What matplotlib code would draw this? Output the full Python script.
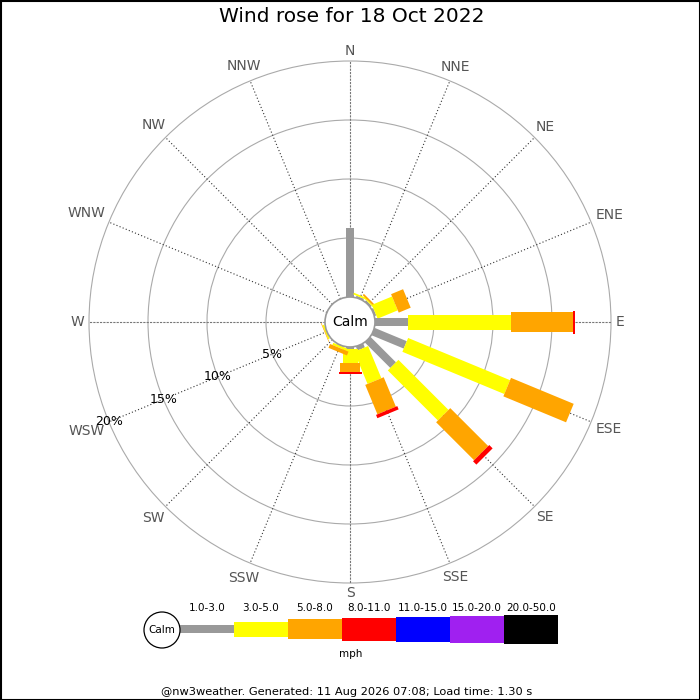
import numpy as np
import matplotlib.pyplot as plt
from matplotlib.patches import Polygon, Circle, Rectangle

directions = ['N', 'NNE', 'NE', 'ENE', 'E', 'ESE', 'SE', 'SSE',
              'S', 'SSW', 'SW', 'WSW', 'W', 'WNW', 'NW', 'NNW']
speed_bins = ['1.0-3.0', '3.0-5.0', '5.0-8.0', '8.0-11.0', '11.0-15.0', '15.0-20.0', '20.0-50.0']
bin_colors = ['#999999', '#ffff00', '#ffa500', '#ff0000', '#0000ff', '#a020f0', '#000000']

# percent of the day per direction, one list per speed bin (mph)
pct_1_3 = [5.85, 0.15, 0.15, 0.15, 2.8, 2.95, 3.05, 0.35, 0.15, 0.05, 0, 0, 0, 0, 0, 0]
pct_3_5 = [0, 0.15, 0.1, 1.85, 8.7, 9.35, 6.0, 2.95, 1.2, 0.2, 0, 0.15, 0, 0, 0, 0]
pct_5_8 = [0, 0, 0.15, 1.1, 5.25, 5.75, 4.55, 2.7, 0.75, 0.35, 0, 0.05, 0, 0, 0, 0]
pct_8_11 = [0, 0, 0, 0, 0.2, 0, 0.4, 0.3, 0.15, 0, 0, 0, 0, 0, 0, 0]
pct_11_15 = [0, 0, 0, 0, 0, 0, 0, 0, 0, 0, 0, 0, 0, 0, 0, 0]
pct_15_20 = [0, 0, 0, 0, 0, 0, 0, 0, 0, 0, 0, 0, 0, 0, 0, 0]
pct_20_50 = [0, 0, 0, 0, 0, 0, 0, 0, 0, 0, 0, 0, 0, 0, 0, 0]
all_bins = [pct_1_3, pct_3_5, pct_5_8, pct_8_11, pct_11_15, pct_15_20, pct_20_50]

ring_pcts = [5, 10, 15, 20]
title = 'Wind rose for 18 Oct 2022'
footer = '@nw3weather. Generated: 11 Aug 2026 07:08; Load time: 1.30 s'

# layout (pixels)
cx, cy = 350, 322
calm_r = 25
px_per_pct = 11.8
bar_w = [8, 15, 20, 23, 25, 27, 29]


def rad(p):
    return calm_r + p * px_per_pct


def unit(deg):
    a = np.radians(deg)
    return np.sin(a), -np.cos(a)


fig = plt.figure(figsize=(7, 7), dpi=100)
ax = fig.add_axes([0, 0, 1, 1])
ax.set_xlim(0, 700)
ax.set_ylim(700, 0)
ax.axis('off')

ax.text(352, 17, title, ha='center', va='center', fontsize=14.5)

# rings
for p in ring_pcts:
    ax.add_patch(Circle((cx, cy), rad(p), fill=False, ec='#aaaaaa', lw=0.8, zorder=1))

# spokes
r_out = rad(ring_pcts[-1])
for i, d in enumerate(directions):
    ux, uy = unit(i * 22.5)
    if i % 4 == 0:
        col, ls = '#777777', (0, (2, 1))
    else:
        col, ls = '#333333', (0, (1, 2))
    ax.plot([cx + ux * calm_r, cx + ux * r_out], [cy + uy * calm_r, cy + uy * r_out],
            color=col, lw=0.8, linestyle=ls, zorder=1)

# bars
for i, d in enumerate(directions):
    ang = i * 22.5
    ux, uy = unit(ang)
    vx, vy = np.cos(np.radians(ang)), np.sin(np.radians(ang))
    cum = 0.0
    for k, vals in enumerate(all_bins):
        v = vals[i]
        if v <= 0:
            continue
        r0, r1 = rad(cum), rad(cum + v)
        h = bar_w[k] / 2
        pts = [(cx + ux * r0 + vx * h, cy + uy * r0 + vy * h),
               (cx + ux * r1 + vx * h, cy + uy * r1 + vy * h),
               (cx + ux * r1 - vx * h, cy + uy * r1 - vy * h),
               (cx + ux * r0 - vx * h, cy + uy * r0 - vy * h)]
        ax.add_patch(Polygon(pts, closed=True, fc=bin_colors[k], ec='none', zorder=2))
        cum += v

# calm circle
ax.add_patch(Circle((cx, cy), calm_r, fc='white', ec='#999999', lw=1.2, zorder=3))
ax.text(cx, cy, 'Calm', ha='center', va='center', fontsize=10, zorder=4)

# ring labels along WSW
ux, uy = unit(247.5)
for p in ring_pcts:
    ax.text(cx + ux * rad(p), cy + uy * rad(p), '%d%%' % p, ha='center', va='center',
            fontsize=9, zorder=4)

# direction labels, pushed out by their own size
fig.canvas.draw()
renderer = fig.canvas.get_renderer()
for i, d in enumerate(directions):
    ux, uy = unit(i * 22.5)
    t = ax.text(0, 0, d, ha='center', va='center', fontsize=10, color='#555555')
    bb = t.get_window_extent(renderer=renderer)
    hw, hh = bb.width / 2, bb.height / 2 * 0.75
    r = 266 + abs(ux) * hw + abs(uy) * hh
    t.set_position((cx + ux * r, cy + uy * r))

# legend
leg_y = 629
leg_x0 = 180
seg = 54
ax.add_patch(Circle((162, leg_y + 1), 18, fc='white', ec='black', lw=0.9, zorder=3))
ax.text(162, leg_y + 1, 'Calm', ha='center', va='center', fontsize=7.5)
for k, lab in enumerate(speed_bins):
    x0 = leg_x0 + k * seg
    ax.add_patch(Rectangle((x0, leg_y - bar_w[k] / 2), seg, bar_w[k], fc=bin_colors[k], ec='none'))
    ax.text(x0 + seg / 2, 608, lab, ha='center', va='center', fontsize=7.5)
ax.text(cx + 1, 654, 'mph', ha='center', va='center', fontsize=7.5)

ax.text(347, 692, footer, ha='center', va='center', fontsize=8.2)

ax.add_patch(Rectangle((0.5, 0.5), 699, 699, fill=False, ec='black', lw=1.5, clip_on=False))

fig.savefig('out.png', dpi=100)
